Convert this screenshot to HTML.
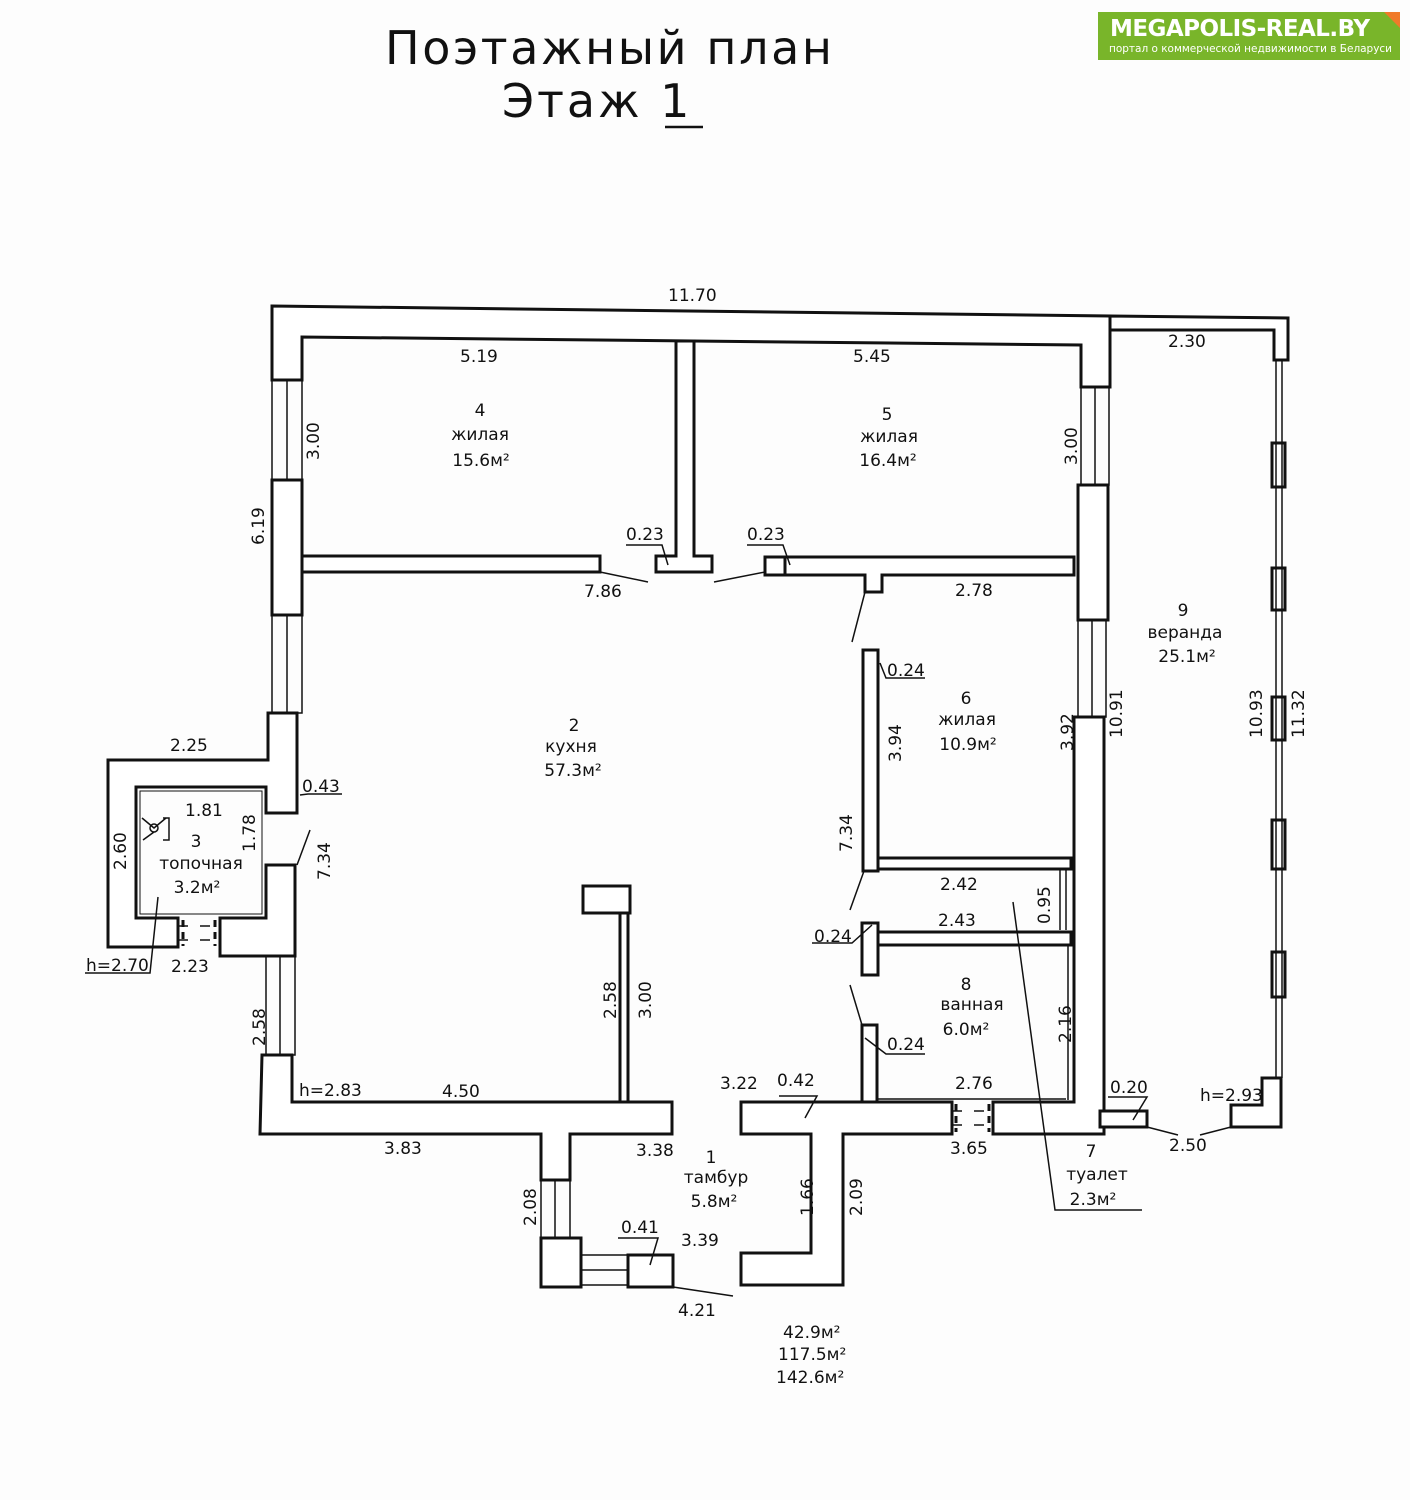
<!DOCTYPE html>
<html><head><meta charset="utf-8"><style>
html,body{margin:0;padding:0;background:#fdfdfd;}
svg{display:block}
text{font-family:"DejaVu Sans","Liberation Sans",sans-serif;fill:#111}
</style></head><body>
<svg width="1410" height="1500" viewBox="0 0 1410 1500" xmlns="http://www.w3.org/2000/svg">
<rect width="1410" height="1500" fill="#fdfdfd"/>
<!-- logo -->
<rect x="1098" y="12" width="302" height="48" fill="#79b52a"/>
<polygon points="1384,12 1400,12 1400,28" fill="#f07a2a"/>
<text x="1110" y="36" font-family="Liberation Sans" font-weight="bold" font-size="23" textLength="260" style="fill:#fff">MEGAPOLIS-REAL.BY</text>
<text x="1109" y="52" font-family="Liberation Sans" font-size="10.5" textLength="283" style="fill:#fff">портал о коммерческой недвижимости в Беларуси</text>
<!-- title -->
<text x="385" y="64" font-size="46" font-family="Liberation Sans" letter-spacing="3" textLength="450">Поэтажный план</text>
<text x="502" y="117" font-size="46" font-family="Liberation Sans" letter-spacing="3">Этаж <tspan>1</tspan></text>
<line x1="665" y1="127" x2="703" y2="127" stroke="#111" stroke-width="2.5"/>

<g stroke="#111" stroke-width="3" fill="#fff" stroke-linejoin="miter">
<polygon points="272,306 1110,316 1110,387 1081,387 1081,345 302,337 302,380 272,380"/>
<polygon points="1110,316 1288,318 1288,360 1274,360 1274,330 1110,330"/>
<rect x="272" y="480" width="30" height="135"/>
<polygon points="268,713 297,713 297,813 266,813 266,787 136,787 136,918 178,918 178,947 108,947 108,760 268,760"/>
<polygon points="220,918 266,918 266,865 295,865 295,956 220,956"/>
<polygon points="262,1055 292,1055 292,1102 672,1102 672,1134 570,1134 570,1180 541,1180 541,1134 260,1134"/>
<rect x="541" y="1238" width="40" height="49"/>
<rect x="628" y="1255" width="45" height="32"/>
<polygon points="741,1102 952,1102 952,1134 843,1134 843,1285 741,1285 741,1253 811,1253 811,1134 741,1134"/>
<polygon points="993,1102 1074,1102 1074,717 1104,717 1104,1134 993,1134"/>
<rect x="1078" y="485" width="30" height="135"/>
<polygon points="1262,1078 1281,1078 1281,1127 1231,1127 1231,1105 1262,1105"/>
<rect x="1100" y="1111" width="47" height="16"/>
<rect x="1272" y="443" width="13" height="44"/>
<rect x="1272" y="568" width="13" height="42"/>
<rect x="1272" y="697" width="13" height="43"/>
<rect x="1272" y="820" width="13" height="49"/>
<rect x="1272" y="952" width="13" height="45"/>
<polygon points="676,341 694,341 694,556 712,556 712,572 656,572 656,556 676,556"/>
<rect x="302" y="556" width="298" height="16"/>
<polygon points="765,557 1074,557 1074,575 882,575 882,592 865,592 865,575 765,575"/>
<rect x="765" y="557" width="20" height="18"/>
<rect x="863" y="650" width="15" height="221"/>
<rect x="878" y="858" width="193" height="11"/>
<rect x="862" y="923" width="16" height="52"/>
<rect x="878" y="932" width="193" height="13"/>
<rect x="862" y="1025" width="15" height="77"/>
<rect x="583" y="886" width="47" height="27"/>
<rect x="620" y="913" width="8" height="189"/>
</g>
<g stroke="#111" stroke-width="1.5" fill="none">
<rect x="272" y="380" width="30" height="100"/><line x1="287" y1="380" x2="287" y2="480"/>
<rect x="272" y="615" width="30" height="98"/><line x1="287" y1="615" x2="287" y2="713"/>
<rect x="266" y="956" width="29" height="99"/><line x1="280" y1="956" x2="280" y2="1055"/>
<rect x="1081" y="387" width="28" height="98"/><line x1="1095" y1="387" x2="1095" y2="485"/>
<rect x="1078" y="620" width="28" height="97"/><line x1="1092" y1="620" x2="1092" y2="717"/>
<rect x="541" y="1180" width="29" height="58"/><line x1="555" y1="1180" x2="555" y2="1238"/>
<rect x="581" y="1255" width="47" height="30"/><line x1="581" y1="1270" x2="628" y2="1270"/>
<line x1="1276" y1="360" x2="1276" y2="1078"/><line x1="1282" y1="360" x2="1282" y2="1078"/>
<rect x="140" y="791" width="122" height="123" stroke-width="1"/>
<line x1="1060" y1="869" x2="1060" y2="930"/><line x1="1066" y1="869" x2="1066" y2="930"/>
<line x1="878" y1="1099" x2="1066" y2="1099"/><line x1="1068" y1="945" x2="1068" y2="1100"/>
<!-- doors -->
<g stroke-width="3">
<line x1="183" y1="920" x2="183" y2="946" stroke-dasharray="7,5"/>
<line x1="215" y1="920" x2="215" y2="946" stroke-dasharray="7,5"/>
<line x1="956" y1="1104" x2="956" y2="1132" stroke-dasharray="7,5"/>
<line x1="989" y1="1104" x2="989" y2="1132" stroke-dasharray="7,5"/>
</g>
<line x1="178" y1="926" x2="220" y2="926" stroke-dasharray="10,12"/>
<line x1="178" y1="940" x2="220" y2="940" stroke-dasharray="10,12"/>
<line x1="952" y1="1111" x2="993" y2="1111" stroke-dasharray="10,12"/>
<line x1="952" y1="1125" x2="993" y2="1125" stroke-dasharray="10,12"/>
<line x1="600" y1="572" x2="648" y2="582"/>
<line x1="714" y1="582" x2="765" y2="572"/>
<line x1="865" y1="592" x2="852" y2="642"/>
<line x1="864" y1="871" x2="850" y2="910"/>
<line x1="850" y1="985" x2="862" y2="1025"/>
<line x1="297" y1="865" x2="310" y2="830"/>
<line x1="1147" y1="1127" x2="1178" y2="1135"/><line x1="1200" y1="1135" x2="1231" y2="1127"/>
<line x1="673" y1="1287" x2="733" y2="1296"/>
<polyline points="626,545 662,545 668,565"/>
<polyline points="747,545 783,545 790,565"/>
<polyline points="880,663 886,678 925,678"/>
<polyline points="812,943 852,943 872,925"/>
<polyline points="865,1038 886,1054 925,1054"/>
<polyline points="300,795 308,794 342,794"/>
<polyline points="779,1096 817,1096 805,1118"/>
<polyline points="1108,1097 1147,1097 1133,1120"/>
<polyline points="618,1238 658,1238 650,1265"/>
<polyline points="85,973 150,973 158,897"/>
<polyline points="1013,902 1055,1210 1142,1210"/>
<circle cx="154" cy="828" r="4"/>
<polyline points="142,818 154,828 166,818"/><line x1="154" y1="832" x2="143" y2="840"/>
<polyline points="163,818 169,818 169,840 163,840"/>
</g>
<g font-size="17" font-family="DejaVu Sans">
<text x="668" y="301">11.70</text>
<text x="460" y="362">5.19</text>
<text x="853" y="362">5.45</text>
<text x="1168" y="347">2.30</text>
<text x="480" y="416" text-anchor="middle">4</text>
<text x="480" y="440" text-anchor="middle">жилая</text>
<text x="481" y="466" text-anchor="middle">15.6м²</text>
<text x="887" y="420" text-anchor="middle">5</text>
<text x="889" y="442" text-anchor="middle">жилая</text>
<text x="888" y="466" text-anchor="middle">16.4м²</text>
<text x="626" y="540">0.23</text>
<text x="747" y="540">0.23</text>
<text x="584" y="597">7.86</text>
<text x="955" y="596">2.78</text>
<text x="1183" y="616" text-anchor="middle">9</text>
<text x="1185" y="638" text-anchor="middle">веранда</text>
<text x="1187" y="662" text-anchor="middle">25.1м²</text>
<text x="887" y="676">0.24</text>
<text x="966" y="704" text-anchor="middle">6</text>
<text x="967" y="725" text-anchor="middle">жилая</text>
<text x="968" y="750" text-anchor="middle">10.9м²</text>
<text x="574" y="731" text-anchor="middle">2</text>
<text x="571" y="752" text-anchor="middle">кухня</text>
<text x="573" y="776" text-anchor="middle">57.3м²</text>
<text x="170" y="751">2.25</text>
<text x="302" y="792">0.43</text>
<text x="185" y="816">1.81</text>
<text x="196" y="847" text-anchor="middle">3</text>
<text x="201" y="869" text-anchor="middle">топочная</text>
<text x="197" y="893" text-anchor="middle">3.2м²</text>
<text x="86" y="971">h=2.70</text>
<text x="171" y="972">2.23</text>
<text x="940" y="890">2.42</text>
<text x="938" y="926">2.43</text>
<text x="814" y="942">0.24</text>
<text x="966" y="990" text-anchor="middle">8</text>
<text x="972" y="1010" text-anchor="middle">ванная</text>
<text x="966" y="1035" text-anchor="middle">6.0м²</text>
<text x="887" y="1050">0.24</text>
<text x="299" y="1096">h=2.83</text>
<text x="442" y="1097">4.50</text>
<text x="720" y="1089">3.22</text>
<text x="777" y="1086">0.42</text>
<text x="955" y="1089">2.76</text>
<text x="1110" y="1093">0.20</text>
<text x="1200" y="1101">h=2.93</text>
<text x="384" y="1154">3.83</text>
<text x="636" y="1156">3.38</text>
<text x="711" y="1163" text-anchor="middle">1</text>
<text x="716" y="1183" text-anchor="middle">тамбур</text>
<text x="714" y="1207" text-anchor="middle">5.8м²</text>
<text x="950" y="1154">3.65</text>
<text x="1169" y="1151">2.50</text>
<text x="1091" y="1157" text-anchor="middle">7</text>
<text x="1097" y="1180" text-anchor="middle">туалет</text>
<text x="1093" y="1205" text-anchor="middle">2.3м²</text>
<text x="621" y="1233">0.41</text>
<text x="681" y="1246">3.39</text>
<text x="678" y="1316">4.21</text>
<text x="783" y="1338">42.9м²</text>
<text x="778" y="1360">117.5м²</text>
<text x="776" y="1383">142.6м²</text>
</g>
<g font-size="17" font-family="DejaVu Sans">
<text transform="translate(319,460) rotate(-90)">3.00</text>
<text transform="translate(264,545) rotate(-90)">6.19</text>
<text transform="translate(1077,465) rotate(-90)">3.00</text>
<text transform="translate(126,870) rotate(-90)">2.60</text>
<text transform="translate(255,852) rotate(-90)">1.78</text>
<text transform="translate(330,880) rotate(-90)">7.34</text>
<text transform="translate(901,762) rotate(-90)">3.94</text>
<text transform="translate(1073,751) rotate(-90)">3.92</text>
<text transform="translate(1122,738) rotate(-90)">10.91</text>
<text transform="translate(1262,738) rotate(-90)">10.93</text>
<text transform="translate(1304,738) rotate(-90)">11.32</text>
<text transform="translate(852,852) rotate(-90)">7.34</text>
<text transform="translate(1050,924) rotate(-90)">0.95</text>
<text transform="translate(1071,1043) rotate(-90)">2.16</text>
<text transform="translate(265,1046) rotate(-90)">2.58</text>
<text transform="translate(616,1019) rotate(-90)">2.58</text>
<text transform="translate(651,1019) rotate(-90)">3.00</text>
<text transform="translate(536,1226) rotate(-90)">2.08</text>
<text transform="translate(813,1216) rotate(-90)">1.66</text>
<text transform="translate(862,1216) rotate(-90)">2.09</text>
</g>
</svg>
</body></html>
